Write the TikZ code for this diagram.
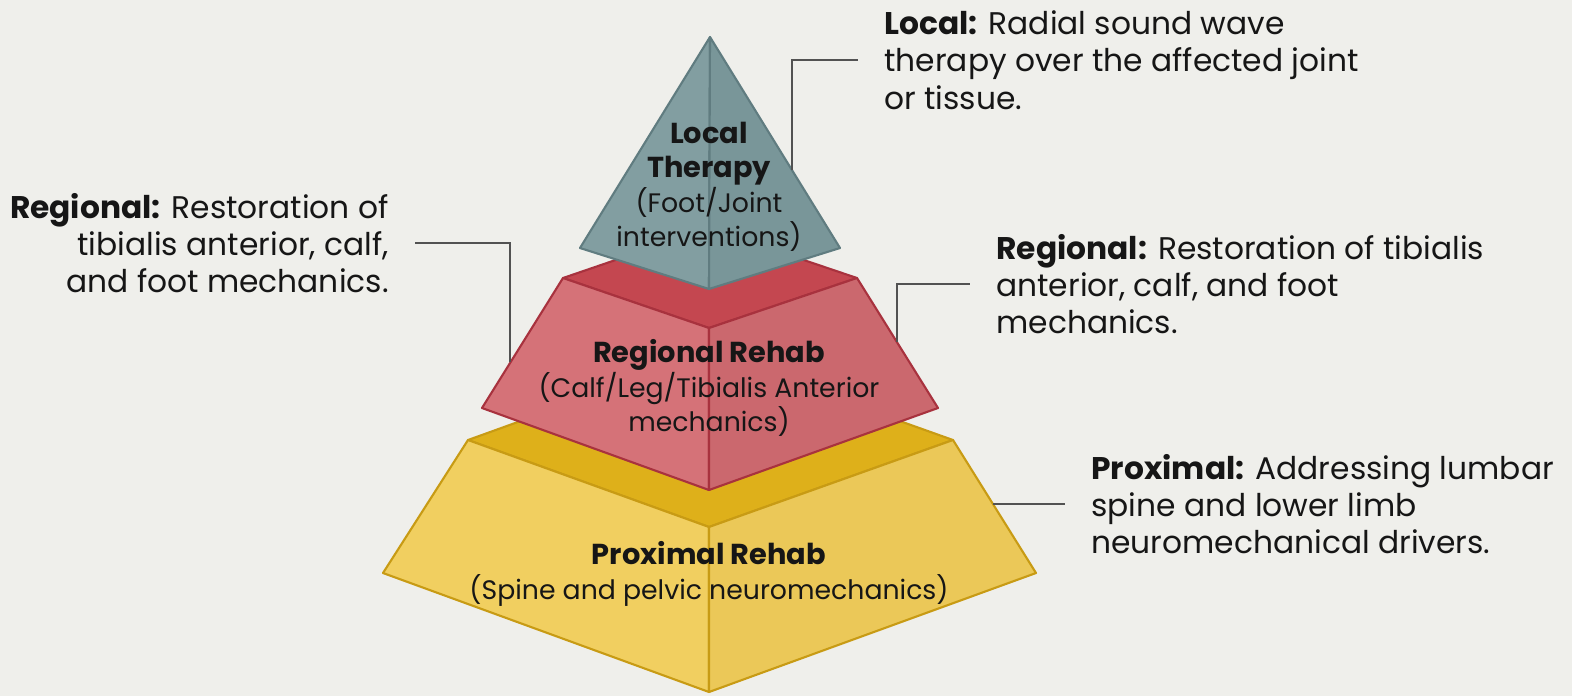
\documentclass[tikz,border=0pt]{standalone}
\usepackage{fontspec}
\setmainfont{Poppins}
\usepackage{tikz}
\usetikzlibrary{positioning}
\definecolor{bgPaper}{RGB}{239,239,235}
\definecolor{tipGrayL}{RGB}{130,158,161}
\definecolor{tipGrayR}{RGB}{121,150,153}
\definecolor{tipGrayLine}{RGB}{96,124,128}
\definecolor{midRedTop}{RGB}{196,71,80}
\definecolor{midRedL}{RGB}{213,114,120}
\definecolor{midRedR}{RGB}{203,104,110}
\definecolor{midRedLine}{RGB}{168,50,62}
\definecolor{baseGoldTop}{RGB}{222,176,26}
\definecolor{baseGoldL}{RGB}{241,207,96}
\definecolor{baseGoldR}{RGB}{235,200,88}
\definecolor{baseGoldLine}{RGB}{200,155,20}
\definecolor{noteInk}{RGB}{22,22,22}
\definecolor{leaderGray}{RGB}{82,82,82}

\newcommand{\tierhead}[1]{{\fontsize{8.2}{9.8}\selectfont\bfseries #1}}

\begin{document}
\begin{tikzpicture}[x=0.01cm, y=-0.01cm,
  face/.style={line width=0.6pt, line join=round},
  callout/.style={leaderGray, line width=0.6pt},
  tier/.style={align=center, inner sep=0pt, text=noteInk, font=\fontsize{7.6}{9.8}\selectfont},
  note/.style={inner sep=0pt, outer xsep=7.5pt, text=noteInk, font=\fontsize{8.9}{10.6}\selectfont}]
\fill[bgPaper] (0,0) rectangle (1572,696);
\useasboundingbox (0,0) rectangle (1572,696);

% base tier
\draw[face, baseGoldLine, fill=baseGoldTop] (468,440) -- (709,353) -- (953,440) -- (709,527) -- cycle;
\draw[face, baseGoldLine, fill=baseGoldL] (468,440) -- (709,527) -- (709,692) -- (383,573) -- cycle;
\draw[face, baseGoldLine, fill=baseGoldR] (709,527) -- (953,440) -- (1036,573) -- (709,692) -- cycle;

% middle tier
\draw[face, midRedLine, fill=midRedTop] (563,278) -- (709,228) -- (857,278) -- (709,328) -- cycle;
\draw[face, midRedLine, fill=midRedL] (563,278) -- (709,328) -- (709,490) -- (482,408) -- cycle;
\draw[face, midRedLine, fill=midRedR] (709,328) -- (857,278) -- (938,408) -- (709,490) -- cycle;

% top tier
\draw[face, tipGrayLine, fill=tipGrayL] (710,37) -- (580,248) -- (709,289) -- cycle;
\draw[face, tipGrayLine, fill=tipGrayR] (710,37) -- (709,289) -- (840,248) -- cycle;

\node[tier] (localTier) at (709,187) {\tierhead{Local}\\\tierhead{Therapy}\\(Foot/Joint\\interventions)};
\node[tier] (regionalTier) at (709,388) {\tierhead{Regional Rehab}\\(Calf/Leg/Tibialis Anterior\\mechanics)};
\node[tier] (proximalTier) at (709,574) {\tierhead{Proximal Rehab}\\(Spine and pelvic neuromechanics)};

\node[note, anchor=west, align=left] (localNote) at (858,60)
  {\textbf{Local:} Radial sound wave\\therapy over the affected joint\\or tissue.};
\node[note, anchor=east, align=right] (regionalNoteL) at (415,243)
  {\textbf{Regional:} Restoration of\\tibialis anterior, calf,\\and foot mechanics.};
\node[note, anchor=west, align=left] (regionalNoteR) at (970,284)
  {\textbf{Regional:} Restoration of tibialis\\anterior, calf, and foot\\mechanics.};
\node[note, anchor=west, align=left] (proximalNote) at (1065,504)
  {\textbf{Proximal:} Addressing lumbar\\spine and lower limb\\neuromechanical drivers.};

\coordinate (localEdge) at (792,170);
\coordinate (regionalEdgeL) at (510,362);
\coordinate (regionalEdgeR) at (897,342);
\coordinate (proximalEdge) at (993,504);

\draw[callout] (localEdge) |- (localNote.west);
\draw[callout] (regionalEdgeL) |- (regionalNoteL.east);
\draw[callout] (regionalEdgeR) |- (regionalNoteR.west);
\draw[callout] (proximalEdge) |- (proximalNote.west);
\end{tikzpicture}
\end{document}
